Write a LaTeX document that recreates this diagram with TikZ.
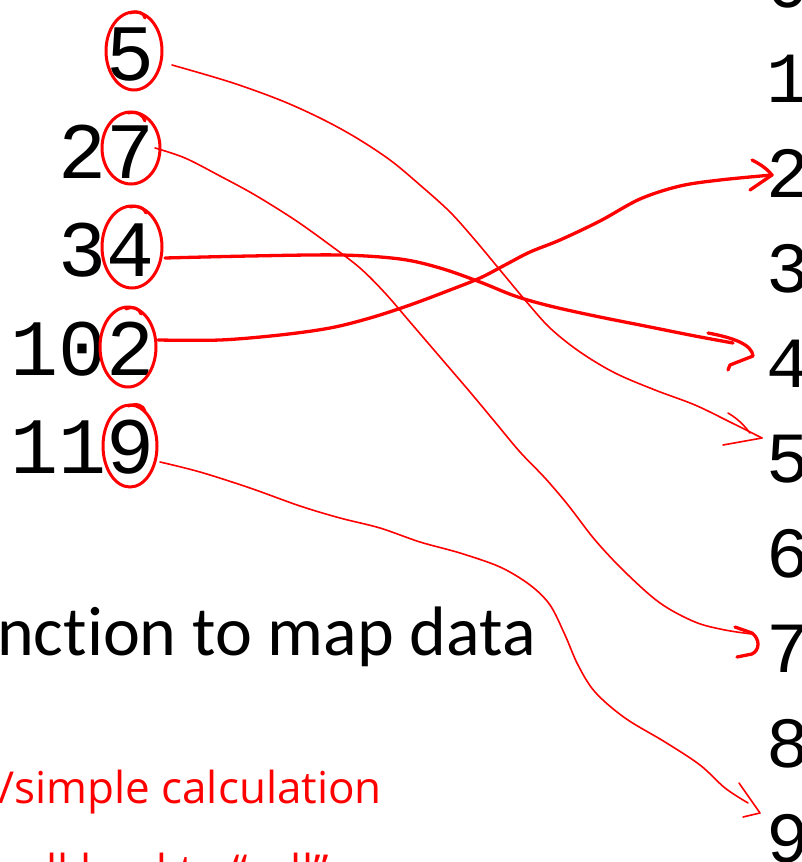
\documentclass[tikz,border=0pt]{standalone}
\usepackage{fontspec}
\setmainfont{Liberation Serif}
\newfontfamily\monof{Liberation Mono}
\newfontfamily\calib[Ligatures={NoCommon,NoRare,NoContextual}]{Carlito}
\newfontfamily\handf{Open Sans}
\begin{document}
\begin{tikzpicture}[x=1pt,y=-1pt,
  lnum/.style={font=\monof\fontsize{80}{80}\selectfont, anchor=base east, inner sep=0pt},
  rnum/.style={font=\monof\fontsize{72}{72}\selectfont, anchor=base west, inner sep=0pt},
  circ/.style={draw=red, line width=3pt},
  thin/.style={draw=red, line width=1.6pt, line cap=round, line join=round},
  thick/.style={draw=red, line width=3.3pt, line cap=round, line join=round},
  handtxt/.style={font=\handf\fontsize{44}{44}\selectfont, text=red, anchor=base west, inner sep=0pt}]
\useasboundingbox (0,0) rectangle (802,862);
\clip (0,0) rectangle (802,862);
\fill[white] (0,0) rectangle (802,862);

% left numbers
\node[lnum] (n5) at (155,80) {5};
\node[lnum] (n27) at (155,178) {27};
\node[lnum] (n34) at (155,276) {34};
\node[lnum] (n102) at (155,375) {102};
\node[lnum] (n119) at (155,473) {119};

% right indices
\foreach \k in {0,...,9} {
  \node[rnum] (r\k) at (766,{7+95*\k}) {\k};
}

% title fragment
\node[font=\calib\fontsize{70}{70}\selectfont, anchor=base west, inner sep=0pt] (title) at (-3,655) {nction to map data};

% handwriting
\node[handtxt] (hw1) at (-2,803) {/simple calculation};
\node[handtxt] (hw2) at (22,886) {all lead to “cell”};

% circles
\coordinate (c5) at (134,51);
\coordinate (c7) at (131,148);
\coordinate (c4) at (132,247);
\coordinate (c2) at (128,347);
\coordinate (c9) at (130,446);
\draw[circ] (c5) ellipse[x radius=28pt, y radius=39pt];
\draw[circ] (c7) ellipse[x radius=29pt, y radius=36pt];
\draw[circ] (c4) ellipse[x radius=30pt, y radius=41pt];
\draw[circ] (c2) ellipse[x radius=28pt, y radius=40pt];
\draw[circ] (c9) ellipse[x radius=27pt, y radius=41pt];
% pen flicks at top of circles
\draw[circ, line cap=round] (130,13) .. controls (138,10) and (144,13) .. (145,18);
\draw[circ, line cap=round] (128,113) .. controls (137,111) and (143,115) .. (145,121);
\draw[circ, line cap=round] (130,207) .. controls (139,205) and (144,208) .. (146,213);
\draw[circ, line cap=round] (126,309) .. controls (133,306) and (139,308) .. (141,314);
\draw[circ, line cap=round] (128,406) .. controls (137,403) and (143,405) .. (145,411);

% connector endpoints
\coordinate (sA) at (172,65);
\coordinate (sB) at (155,148);
\coordinate (sC) at (165,258);
\coordinate (sD) at (158,340);
\coordinate (sE) at (160,462);
\coordinate (tA) at (762,438);
\coordinate (tB) at (752,634);
\coordinate (tC) at (733,343);
\coordinate (tD) at (772,175);
\coordinate (tE) at (748,803);

% A: 5 -> 5
\draw[thin] plot[smooth, tension=0.55] coordinates {(sA) (230,82) (280,100) (320,118) (355,137) (390,160) (420,185) (450,212) (475,240) (500,270) (525,300) (550,328) (580,352) (615,373) (655,390) (695,405) (730,422) (tA)};
\draw[thin] (728,413) .. controls (740,420) and (746,428) .. (750,433);
\draw[thin] (tA) -- (723,445);

% B: 7 -> 7
\draw[thin] plot[smooth, tension=0.55] coordinates {(sB) (185,158) (220,176) (255,195) (295,220) (330,245) (360,268) (385,293) (410,322) (440,357) (470,392) (495,422) (520,452) (545,478) (568,505) (595,540) (625,572) (660,603) (695,622) (725,630) (tB)};
\draw[thick] (735,627) -- (752,633) .. controls (760,639) and (760,650) .. (752,654) -- (737,657);

% C: 34 -> 4
\draw[thick] plot[smooth, tension=0.55] coordinates {(sC) (250,256) (340,255) (400,259) (440,268) (480,282) (515,296) (550,306) (595,316) (645,326) (695,336) (tC)};
\draw[thick] (708,333) .. controls (735,338) and (752,345) .. (753,356) -- (730,365) -- (728,370);

% D: 102 -> 2
\draw[thick] plot[smooth, tension=0.55] coordinates {(sD) (220,340) (280,335) (330,328) (370,318) (410,305) (450,290) (480,278) (505,265) (530,252) (560,240) (600,221) (640,199) (680,186) (720,180) (tD)};
\draw[thick] (752,160) .. controls (762,165) and (768,170) .. (tD) -- (750,190);

% E: 119 -> 9
\draw[thin] plot[smooth, tension=0.55] coordinates {(sE) (200,472) (250,488) (300,506) (340,518) (380,528) (420,542) (460,553) (500,567) (530,585) (550,605) (565,635) (578,665) (595,692) (625,718) (665,742) (700,765) (725,788) (tE)};
\draw[thin] (739,783) -- (760,813) -- (743,817);
\end{tikzpicture}
\end{document}
